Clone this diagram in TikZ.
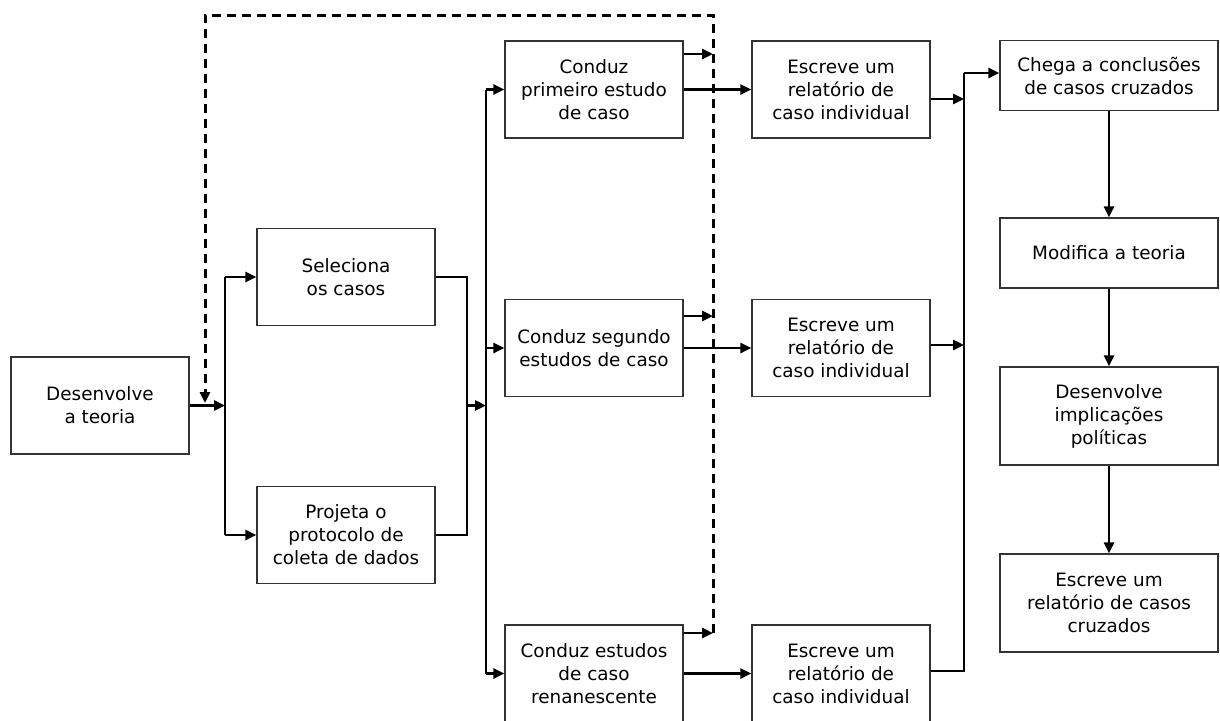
\documentclass[tikz,border=0pt]{standalone}
\usepackage{fontspec}
\setmainfont{DejaVu Sans}
\usetikzlibrary{arrows.meta}

\begin{document}
\begin{tikzpicture}[x=0.5pt, y=-0.5pt]
	\useasboundingbox (0,0) rectangle (1220,720);
	\begin{scope}[every node/.style={rectangle, draw=black!80, line width=0.6pt, align=center, inner sep=0pt,
	              minimum width=89pt, minimum height=48.5pt, font=\fontsize{9.2}{11.5}\selectfont}]
		\node (1) at (100,405.5) {Desenvolve\\a teoria};
		\node (2) at (346,277) {Seleciona\\os casos};
		\node (3) at (346,535) {Projeta o\\protocolo de\\coleta de dados};
		\node (4) at (594,89.5) {Conduz\\primeiro estudo\\de caso};
		\node (5) at (594,348) {Conduz segundo\\estudos de caso};
		\node (6) at (594,673.5) {Conduz estudos\\de caso\\renanescente};
		\node (7) at (841,89.5) {Escreve um\\relatório de\\caso individual};
		\node (8) at (841,348) {Escreve um\\relatório de\\caso individual};
		\node (9) at (841,673.5) {Escreve um\\relatório de\\caso individual};
		\node[minimum width=109pt, minimum height=35pt] (10) at (1109,75.5) {Chega a conclusões\\de casos cruzados};
		\node[minimum width=109pt, minimum height=35pt] (11) at (1109,253) {Modifica a teoria};
		\node[minimum width=109pt, minimum height=49pt] (12) at (1109,416) {Desenvolve\\implicações\\políticas};
		\node[minimum width=109pt, minimum height=49pt] (13) at (1109,603) {Escreve um\\relatório de casos\\cruzados};
	\end{scope}

	\begin{scope}[>={Triangle[length=5.5pt,width=5pt]}, line width=1.3pt]
		\coordinate (a) at (225,405.5);
		\coordinate (b) at (467,405.5);
		\coordinate (c) at (486,405.5);
		\coordinate (d) at (713,15);
		\coordinate (d1) at (713,54);
		\coordinate (d2) at (713,316);
		\coordinate (d3) at (713,633);
		\coordinate (f) at (205,15);
		\coordinate (g) at (964,73);
		\coordinate (g1) at (964,99);
		\coordinate (g2) at (964,345);
		\coordinate (g3) at (964,671);

		\draw[->] (1) -- (a);
		\draw (a |- 2) -- (a |- 3);
		\draw[->] (a |- 2) -- (2);
		\draw[->] (a |- 3) -- (3);

		\draw[line width=0.6pt] (2) -- (b |- 2) -- (b |- 3) -- (3);
		\draw[->] (b) -- (c);
		\draw (c |- 4) -- (c |- 6);
		\draw[->] (c |- 4) -- (4);
		\draw[->] (c |- 5) -- (5);
		\draw[->] (c |- 6) -- (6);

		\draw[->] (4) -- (7);
		\draw[->] (5) -- (8);
		\draw[->] (6) -- (9);

		\draw[->] (4.east |- d1) -- (d1);
		\draw[->] (5.east |- d2) -- (d2);
		\draw[->] (6.east |- d3) -- (d3);
		\draw[->, line width=1.5pt, dash pattern=on 4.5pt off 3pt] (d3) -- (d) -- (f) -- (205,403);

		\draw[->] (7.east |- g1) -- (g1);
		\draw[->] (8.east |- g2) -- (g2);
		\draw (9.east |- g3) -- (g3) -- (g);
		\draw[->] (g) -- (10.west |- g);

		\draw[->] (10) -- (11);
		\draw[->] (11) -- (12);
		\draw[->] (12) -- (13);
	\end{scope}
\end{tikzpicture}
\end{document}
